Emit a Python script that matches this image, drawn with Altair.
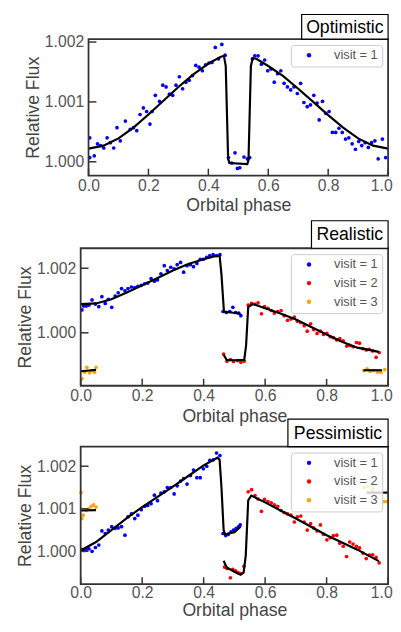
import altair as alt
import pandas as pd

# ---------------- shared labels ----------------
x_ticks = [0.0, 0.2, 0.4, 0.6, 0.8, 1.0]
opt_y_ticks = [1.000, 1.001, 1.002]
real_y_ticks = [1.000, 1.002]
pes_y_ticks = [1.000, 1.001, 1.002]
visit_labels = ["visit = 1", "visit = 2", "visit = 3"]
visit_colors = ["#0000ff", "#ff0000", "#ffa500"]
panel_titles = ["Optimistic", "Realistic", "Pessimistic"]

# ---------------- Optimistic ----------------
opt_phase = [0.004, 0.004, 0.019, 0.030, 0.040, 0.051, 0.062, 0.073, 0.084, 0.095,
             0.106, 0.123, 0.139, 0.150, 0.161, 0.172, 0.183, 0.194, 0.205, 0.212,
             0.223, 0.237, 0.248, 0.259, 0.270, 0.281, 0.292, 0.303, 0.314, 0.325,
             0.336, 0.347, 0.358, 0.369, 0.380, 0.391, 0.402, 0.412, 0.423, 0.434,
             0.445, 0.456, 0.467, 0.478, 0.489, 0.497, 0.505, 0.519, 0.530, 0.538,
             0.547, 0.555, 0.566, 0.577, 0.588, 0.598, 0.609, 0.620, 0.631, 0.642,
             0.653, 0.664, 0.675, 0.686, 0.697, 0.708, 0.719, 0.730, 0.741, 0.752,
             0.763, 0.770, 0.781, 0.792, 0.803, 0.814, 0.825, 0.836, 0.847, 0.858,
             0.869, 0.880, 0.891, 0.902, 0.912, 0.923, 0.934, 0.945, 0.956, 0.967,
             0.981, 0.992]
opt_flux = [1.00040, 1.00007, 1.00010, 1.00030, 1.00027, 1.00023, 1.00040, 1.00032, 1.00023, 1.00057,
            1.00035, 1.00068, 1.00054, 1.00057, 1.00052, 1.00079, 1.00090, 1.00084, 1.00063, 1.00084,
            1.00111, 1.00101, 1.00128, 1.00125, 1.00113, 1.00111, 1.00128, 1.00142, 1.00122, 1.00133,
            1.00136, 1.00144, 1.00161, 1.00158, 1.00152, 1.00162, 1.00165, 1.00166, 1.00191, 1.00172,
            1.00196, 1.00178, 1.00007, 0.99998, 1.00015, 0.99989, 0.99990, 1.00008, 1.00005, 1.00007,
            1.00172, 1.00177, 1.00177, 1.00163, 1.00170, 1.00152, 1.00155, 1.00133, 1.00147, 1.00152,
            1.00131, 1.00125, 1.00120, 1.00125, 1.00114, 1.00131, 1.00099, 1.00092, 1.00095, 1.00111,
            1.00098, 1.00070, 1.00101, 1.00081, 1.00084, 1.00049, 1.00049, 1.00056, 1.00049, 1.00038,
            1.00040, 1.00030, 1.00021, 1.00034, 1.00027, 1.00032, 1.00024, 1.00032, 1.00035, 1.00005,
            1.00038, 1.00007]
opt_model_phase = [0.0, 0.05, 0.10, 0.15, 0.20, 0.25, 0.30, 0.35, 0.40, 0.44,
                   0.452, 0.458, 0.466, 0.47, 0.53, 0.534, 0.542, 0.548, 0.56, 0.60,
                   0.65, 0.70, 0.75, 0.80, 0.85, 0.90, 0.95, 1.0]
opt_model_flux = [1.00022, 1.00027, 1.00039, 1.00057, 1.00079, 1.00102, 1.00125, 1.00146, 1.00164, 1.00175,
                  1.00177, 1.00160, 1.00005, 0.99998, 0.99996, 1.00003, 1.00160, 1.00173, 1.00172, 1.00160,
                  1.00143, 1.00122, 1.00100, 1.00078, 1.00057, 1.00039, 1.00027, 1.00022]

# ---------------- Realistic ----------------
real_v1_phase = [0.004, 0.010, 0.018, 0.027, 0.037, 0.048, 0.059, 0.069, 0.080, 0.090,
                 0.101, 0.112, 0.122, 0.133, 0.144, 0.154, 0.165, 0.176, 0.186, 0.197,
                 0.208, 0.218, 0.229, 0.240, 0.250, 0.261, 0.272, 0.282, 0.293, 0.304,
                 0.314, 0.325, 0.335, 0.346, 0.357, 0.367, 0.378, 0.389, 0.399, 0.410,
                 0.420, 0.431, 0.442, 0.453, 0.463, 0.474, 0.485, 0.495, 0.504, 0.514,
                 0.521]
real_v1_flux = [1.00071, 1.00083, 1.00083, 1.00086, 1.00102, 1.00089, 1.00081, 1.00112, 1.00091, 1.00104,
                1.00079, 1.00114, 1.00124, 1.00137, 1.00130, 1.00137, 1.00142, 1.00140, 1.00144, 1.00147,
                1.00152, 1.00154, 1.00168, 1.00160, 1.00164, 1.00183, 1.00208, 1.00193, 1.00203, 1.00198,
                1.00211, 1.00218, 1.00188, 1.00208, 1.00211, 1.00205, 1.00215, 1.00228, 1.00228, 1.00234,
                1.00239, 1.00242, 1.00239, 1.00242, 1.00066, 1.00063, 1.00066, 1.00079, 1.00063, 1.00061,
                1.00053]
real_v2_phase = [0.465, 0.476, 0.487, 0.497, 0.510, 0.521, 0.532,
                 0.545, 0.556, 0.567, 0.577, 0.588, 0.598, 0.609, 0.620, 0.630, 0.641,
                 0.652, 0.662, 0.673, 0.684, 0.695, 0.705, 0.716, 0.727, 0.737, 0.748,
                 0.758, 0.769, 0.780, 0.790, 0.801, 0.812, 0.822, 0.833, 0.843, 0.854,
                 0.865, 0.875, 0.886, 0.897, 0.907, 0.918, 0.929, 0.939, 0.950, 0.961,
                 0.971]
real_v2_flux = [0.99934, 0.99912, 0.99917, 0.99911, 0.99914, 0.99909, 0.99912,
                1.00086, 1.00091, 1.00089, 1.00093, 1.00059, 1.00081, 1.00076, 1.00069, 1.00061, 1.00066,
                1.00069, 1.00053, 1.00039, 1.00043, 1.00049, 1.00036, 1.00032, 1.00022, 1.00005, 1.00028,
                1.00010, 0.99998, 1.00005, 0.99995, 0.99998, 0.99988, 0.99985, 0.99978, 0.99982, 0.99975,
                0.99959, 0.99961, 0.99957, 0.99970, 0.99968, 0.99951, 0.99947, 0.99949, 0.99944, 0.99924,
                0.99939]
real_v3_phase = [0.004, 0.013, 0.020, 0.029, 0.037, 0.045, 0.050,
                 0.921, 0.932, 0.942, 0.953, 0.966, 0.977, 0.989]
real_v3_flux = [0.99858, 0.99878, 0.99893, 0.99876, 0.99883, 0.99878, 0.99893,
                0.99883, 0.99888, 0.99881, 0.99883, 0.99878, 0.99878, 0.99886]
real_m1_phase = [0.0, 0.05, 0.10, 0.15, 0.20, 0.25, 0.30, 0.35, 0.40, 0.44, 0.452, 0.458, 0.466, 0.49, 0.52]
real_m1_flux = [1.00089, 1.00091, 1.00104, 1.00125, 1.00147, 1.00170, 1.00193, 1.00213, 1.00228, 1.00238,
                1.00238, 1.00180, 1.00066, 1.00063, 1.00059]
real_m2_phase = [0.465, 0.475, 0.50, 0.532, 0.538, 0.545, 0.56, 0.60, 0.65, 0.70, 0.75, 0.80, 0.85, 0.90, 0.97]
real_m2_flux = [0.99932, 0.99916, 0.99915, 0.99916, 0.99960, 1.00080, 1.00089, 1.00076, 1.00060, 1.00041,
                1.00018, 0.99995, 0.99972, 0.99954, 0.99941]
real_m3a_phase = [0.0, 0.05]
real_m3a_flux = [0.99881, 0.99885]
real_m3b_phase = [0.92, 0.98]
real_m3b_flux = [0.99884, 0.99884]

# ---------------- Pessimistic ----------------
pes_v1_phase = [0.004, 0.011, 0.018, 0.027, 0.037, 0.048, 0.059, 0.069, 0.080, 0.090,
                0.101, 0.112, 0.122, 0.133, 0.144, 0.154, 0.165, 0.176, 0.186, 0.197,
                0.208, 0.218, 0.229, 0.240, 0.250, 0.261, 0.272, 0.282, 0.293, 0.304,
                0.314, 0.325, 0.335, 0.346, 0.357, 0.367, 0.378, 0.389, 0.399, 0.410,
                0.420, 0.431, 0.442, 0.453,
                0.463, 0.472, 0.480, 0.489, 0.497, 0.506, 0.514, 0.519]
pes_v1_flux = [1.00004, 1.00002, 1.00004, 1.00006, 1.00000, 1.00009, 1.00015, 1.00048, 1.00042, 1.00050,
               1.00058, 1.00054, 1.00055, 1.00058, 1.00038, 1.00081, 1.00088, 1.00077, 1.00085, 1.00098,
               1.00106, 1.00108, 1.00112, 1.00132, 1.00119, 1.00137, 1.00140, 1.00150, 1.00150, 1.00135,
               1.00154, 1.00165, 1.00171, 1.00158, 1.00178, 1.00191, 1.00173, 1.00173, 1.00194, 1.00200,
               1.00214, 1.00215, 1.00231, 1.00225,
               1.00042, 1.00037, 1.00040, 1.00046, 1.00050, 1.00054, 1.00058, 1.00062]
pes_v2_phase = [0.468, 0.476, 0.487, 0.495, 0.504, 0.512, 0.521, 0.531,
                0.545, 0.556, 0.567, 0.577, 0.588, 0.598, 0.609, 0.620, 0.630, 0.641,
                0.652, 0.662, 0.673, 0.684, 0.695, 0.705, 0.716, 0.727, 0.737, 0.748,
                0.758, 0.769, 0.780, 0.790, 0.801, 0.812, 0.822, 0.833, 0.843, 0.854,
                0.865, 0.875, 0.886, 0.897, 0.907, 0.918, 0.929, 0.939, 0.950, 0.961,
                0.971]
pes_v2_flux = [0.99963, 0.99960, 0.99938, 0.99958, 0.99954, 0.99950, 0.99948, 0.99965,
               1.00140, 1.00145, 1.00131, 1.00123, 1.00094, 1.00122, 1.00117, 1.00114, 1.00109, 1.00106,
               1.00096, 1.00091, 1.00088, 1.00085, 1.00069, 1.00081, 1.00083, 1.00069, 1.00050, 1.00065,
               1.00055, 1.00048, 1.00062, 1.00040, 1.00027, 1.00032, 1.00037, 1.00038, 1.00019, 1.00012,
               0.99988, 1.00022, 1.00017, 1.00012, 1.00008, 0.99996, 0.99983, 0.99991, 0.99992, 0.99986,
               0.99973]
pes_v3_phase = [0.001, 0.004, 0.008, 0.018, 0.027, 0.034, 0.042, 0.050,
                0.921, 0.934, 0.950, 0.961, 0.987, 0.997]
pes_v3_flux = [1.00138, 1.00077, 1.00085, 1.00096, 1.00100, 1.00106, 1.00109, 1.00104,
               1.00150, 1.00152, 1.00145, 1.00135, 1.00117, 1.00117]
pes_m1_phase = [0.0, 0.05, 0.10, 0.15, 0.20, 0.25, 0.30, 0.35, 0.40, 0.445, 0.452, 0.458, 0.465, 0.47, 0.50, 0.52]
pes_m1_flux = [1.00002, 1.00022, 1.00050, 1.00078, 1.00104, 1.00128, 1.00152, 1.00177, 1.00202, 1.00220,
               1.00215, 1.00150, 1.00050, 1.00040, 1.00045, 1.00058]
pes_m2_phase = [0.465, 0.475, 0.50, 0.52, 0.53, 0.537, 0.545, 0.555, 0.60, 0.70, 0.80, 0.90, 0.97]
pes_m2_flux = [0.99978, 0.99962, 0.99952, 0.99945, 0.99950, 0.99990, 1.00120, 1.00131, 1.00115, 1.00077,
               1.00038, 1.00004, 0.99977]
pes_m3a_phase = [0.0, 0.05]
pes_m3a_flux = [1.00096, 1.00097]
pes_m3b_phase = [0.93, 1.0]
pes_m3b_flux = [1.00138, 1.00138]

# ---------------- helpers ----------------
FONT = "Liberation Sans"
W = 313


def pts_df(groups):
    frames = []
    for label, ph, fl in groups:
        frames.append(pd.DataFrame({"phase": ph, "flux": fl, "visit": label}))
    return pd.concat(frames, ignore_index=True)


def model_df(groups):
    frames = []
    for seg, ph, fl in groups:
        frames.append(pd.DataFrame({"phase": ph, "flux": fl, "seg": seg}))
    return pd.concat(frames, ignore_index=True)


def panel(title, pts, model, y_domain, y_ticks, height, x0, box_w, box_h, n_vis,
          xlab_pad=2, xtitle_pad=4):
    xs = alt.Scale(domain=[0, 1], range=[x0, W], nice=False, zero=False)
    ys = alt.Scale(domain=y_domain, nice=False, zero=False)
    one = pd.DataFrame({"t": [title]})

    def x_enc(field="phase:Q"):
        return alt.X(field, scale=xs,
                     axis=alt.Axis(values=x_ticks, format=".1f", title="Orbital phase",
                                   labelFlush=False, labelPadding=xlab_pad,
                                   titlePadding=xtitle_pad,
                                   labelOffset={"condition": {"test": "datum.value >= 0.999",
                                                              "value": -7},
                                                "value": 0}))

    def y_enc(field="flux:Q"):
        if x0:
            ax = alt.Axis(values=y_ticks, format=".3f", title="Relative Flux",
                          labelFlush=False, offset=-x0)
        else:
            ax = alt.Axis(values=y_ticks, format=".3f", title="Relative Flux",
                          labelFlush=False)
        return alt.Y(field, scale=ys, axis=ax)

    points = alt.Chart(pts).mark_circle(size=14, opacity=1).encode(
        x=x_enc(),
        y=y_enc(),
        color=alt.Color("visit:N",
                        scale=alt.Scale(domain=visit_labels[:n_vis], range=visit_colors[:n_vis]),
                        legend=alt.Legend(title=None)),
    )

    lines = alt.Chart(model).mark_line(color="black", strokeWidth=2.2).encode(
        x=x_enc(), y=y_enc(), detail="seg:N",
    )

    frame = alt.Chart(one).mark_rect(
        fill="white", fillOpacity=0, stroke="#333333", strokeWidth=1.8
    ).encode(x=alt.value(x0), x2=alt.value(W), y=alt.value(0), y2=alt.value(height))

    ytk = alt.Chart(pd.DataFrame({"flux": y_ticks})).mark_rule(
        color="#333333", strokeWidth=1.5
    ).encode(y=y_enc(), x=alt.value(x0), x2=alt.value(x0 + 8))

    xtk = alt.Chart(pd.DataFrame({"phase": x_ticks})).mark_rule(
        color="#333333", strokeWidth=1.5
    ).encode(x=x_enc(), y=alt.value(height - 7), y2=alt.value(height))

    box = alt.Chart(one).mark_rect(fill="white", stroke="black", strokeWidth=1.2).encode(
        x=alt.value(W - box_w), x2=alt.value(W), y=alt.value(-box_h), y2=alt.value(0)
    )
    boxtext = alt.Chart(one).mark_text(
        font=FONT, fontSize=18, color="black", align="center", baseline="middle"
    ).encode(text="t:N", x=alt.value(W - box_w / 2), y=alt.value(-box_h / 2 + 1))

    return alt.layer(points, lines, frame, ytk, xtk, box, boxtext).properties(
        width=W, height=height
    )


top = panel(
    panel_titles[0],
    pts_df([(visit_labels[0], opt_phase, opt_flux)]),
    model_df([("m", opt_model_phase, opt_model_flux)]),
    [0.99977, 1.00205], opt_y_ticks, 139, 8, 88, 25, 1,
)
mid = panel(
    panel_titles[1],
    pts_df([(visit_labels[0], real_v1_phase, real_v1_flux),
            (visit_labels[1], real_v2_phase, real_v2_flux),
            (visit_labels[2], real_v3_phase, real_v3_flux)]),
    model_df([("a", real_m1_phase, real_m1_flux), ("b", real_m2_phase, real_m2_flux),
              ("c", real_m3a_phase, real_m3a_flux), ("d", real_m3b_phase, real_m3b_flux)]),
    [0.99836, 1.00262], real_y_ticks, 140, 0, 78, 28, 3,
)
bot = panel(
    panel_titles[2],
    pts_df([(visit_labels[0], pes_v1_phase, pes_v1_flux),
            (visit_labels[1], pes_v2_phase, pes_v2_flux),
            (visit_labels[2], pes_v3_phase, pes_v3_flux)]),
    model_df([("a", pes_m1_phase, pes_m1_flux), ("b", pes_m2_phase, pes_m2_flux),
              ("c", pes_m3a_phase, pes_m3a_flux), ("d", pes_m3b_phase, pes_m3b_flux)]),
    [0.99923, 1.00246], pes_y_ticks, 140, 0, 102, 28, 3,
    xlab_pad=1, xtitle_pad=1,
)

inner = alt.vconcat(mid, bot, spacing=62, bounds="flush").resolve_scale(
    x="independent", y="independent", color="independent"
).resolve_legend(color="independent")

chart = alt.vconcat(top, inner, spacing=74, bounds="flush").resolve_scale(
    x="independent", y="independent", color="independent"
).resolve_legend(color="independent").properties(
    padding={"left": 8, "top": 0, "right": 0, "bottom": 0}
).configure(font=FONT).configure_view(strokeWidth=0).configure_axis(
    domain=False, ticks=False, grid=False,
    labelFont=FONT, labelFontSize=16, labelColor="#555555", labelPadding=5,
    titleFont=FONT, titleFontSize=18, titleColor="#444444", titleFontWeight="normal",
).configure_axisY(titlePadding=2).configure_legend(
    orient="top-right", offset=6, padding=4, symbolOffset=8, labelOffset=19,
    fillColor="rgba(255,255,255,0.8)", strokeColor="#cccccc", cornerRadius=3,
    labelFont=FONT, labelFontSize=13, labelColor="#555555",
    symbolSize=20, symbolType="circle", rowPadding=5,
)

chart.save("out.html", embed_options={"renderer": "svg", "actions": False})
